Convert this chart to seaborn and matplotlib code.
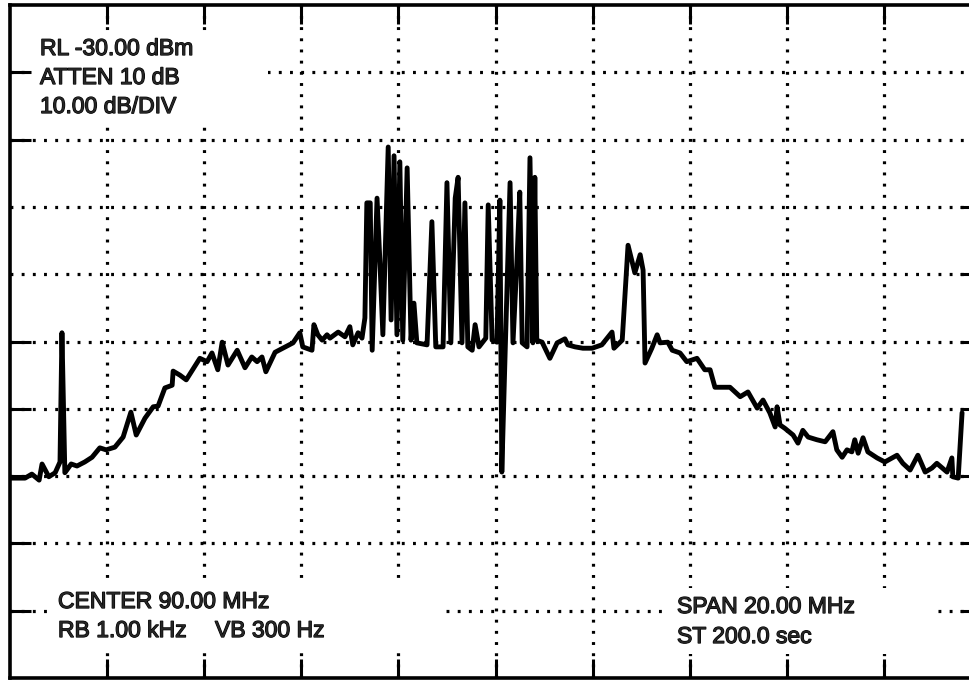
import numpy as np
import pandas as pd
import matplotlib
matplotlib.use("Agg")
import matplotlib.pyplot as plt
import matplotlib.patheffects as pe
from matplotlib.patches import Rectangle
import seaborn as sns

# Swept spectrum trace: frequency (MHz) and displayed level (dBm)
freq_mhz = [
    80.00, 80.31, 80.45, 80.60, 80.66, 80.80, 80.93, 81.03, 81.07, 81.13,
    81.26, 81.38, 81.54, 81.69, 81.85, 81.98, 82.16, 82.33, 82.49, 82.60,
    82.78, 82.95, 83.05, 83.19, 83.34, 83.36, 83.50, 83.63, 83.91, 84.06,
    84.16, 84.28, 84.37, 84.49, 84.68, 84.84, 84.98, 85.09, 85.19, 85.27,
    85.46, 85.62, 85.83, 85.97, 86.03, 86.22, 86.26, 86.34, 86.43, 86.53,
    86.59, 86.76, 86.90, 87.00, 87.06, 87.17, 87.25, 87.31, 87.35, 87.42,
    87.46, 87.56, 87.62, 87.68, 87.79, 87.85, 87.91, 87.97, 88.03, 88.09,
    88.18, 88.26, 88.32, 88.38, 88.59, 88.69, 88.77, 88.92, 89.00, 89.08,
    89.17, 89.23, 89.31, 89.37, 89.43, 89.52, 89.58, 89.66, 89.80, 89.85,
    89.93, 90.03, 90.09, 90.13, 90.20, 90.30, 90.36, 90.44, 90.50, 90.55,
    90.65, 90.71, 90.77, 90.81, 90.85, 90.96, 91.12, 91.27, 91.43, 91.49,
    91.64, 91.80, 91.99, 92.19, 92.40, 92.44, 92.61, 92.73, 92.87, 92.98,
    93.04, 93.08, 93.22, 93.33, 93.39, 93.55, 93.64, 93.80, 93.94, 94.15,
    94.31, 94.42, 94.52, 94.83, 95.04, 95.20, 95.39, 95.51, 95.65, 95.76,
    95.80, 95.86, 95.96, 96.13, 96.23, 96.33, 96.44, 96.62, 96.79, 96.95,
    97.03, 97.14, 97.24, 97.34, 97.40, 97.47, 97.57, 97.67, 97.86, 98.02,
    98.17, 98.27, 98.39, 98.54, 98.70, 98.85, 98.99, 99.09, 99.30, 99.40,
    99.42, 99.53, 99.61,
]
level_dbm = [
    -100.3, -100.3, -99.7, -100.6, -98.2, -100.1, -99.5, -97.9, -78.7, -99.5,
    -98.2, -98.5, -97.9, -97.2, -95.8, -96.1, -95.7, -94.2, -90.5, -93.9,
    -91.4, -89.7, -89.6, -86.9, -86.5, -84.4, -85.0, -85.7, -82.5, -83.0,
    -81.7, -84.2, -80.1, -83.5, -81.3, -83.9, -82.3, -83.0, -82.3, -84.5,
    -81.6, -81.0, -80.2, -78.7, -80.8, -81.3, -77.5, -79.0, -79.8, -79.0,
    -79.5, -78.6, -79.3, -77.8, -80.5, -78.7, -79.5, -76.5, -59.4, -59.4,
    -81.3, -58.7, -68.3, -79.0, -51.1, -76.8, -52.4, -79.0, -53.3, -79.8,
    -54.2, -79.8, -74.3, -80.2, -80.5, -62.2, -80.8, -80.8, -56.4, -80.2,
    -58.7, -55.6, -80.2, -59.4, -80.8, -81.3, -77.5, -80.8, -79.5, -59.7,
    -79.8, -80.1, -59.0, -99.4, -81.3, -56.4, -80.2, -68.3, -57.8, -80.2,
    -80.8, -52.7, -80.2, -55.6, -79.8, -80.1, -82.5, -80.2, -79.6, -80.5,
    -80.8, -81.0, -81.0, -80.5, -78.6, -81.0, -79.8, -65.7, -69.8, -67.1,
    -69.4, -83.2, -81.0, -79.0, -80.2, -80.1, -81.3, -81.7, -83.0, -82.5,
    -84.2, -84.2, -86.8, -86.8, -88.2, -87.5, -89.9, -88.7, -90.6, -92.7,
    -89.7, -92.4, -92.9, -93.9, -95.1, -93.2, -94.2, -94.6, -94.9, -93.4,
    -96.1, -97.2, -96.1, -96.4, -94.6, -96.6, -94.3, -96.4, -97.3, -97.9,
    -97.3, -96.9, -98.1, -99.1, -96.9, -99.4, -98.8, -98.1, -99.4, -97.3,
    -100.1, -100.3, -90.6,
]

# Instrument settings shown on screen
ref_level_dbm = -30.0
db_per_div = 10.0
n_ydiv = 10
center_mhz = 90.0
span_mhz = 20.0
n_xdiv = 10

settings_top = ["RL -30.00 dBm", "ATTEN 10 dB", "10.00 dB/DIV"]
center_text = "CENTER 90.00 MHz"
rbw_text = "RB 1.00 kHz"
vbw_text = "VB 300 Hz"
span_text = "SPAN 20.00 MHz"
sweep_text = "ST 200.0 sec"

sns.set_style("white")
plt.rcParams["font.family"] = ["Liberation Sans", "DejaVu Sans"]

W, H = 969, 680
fig = plt.figure(figsize=(W / 100, H / 100), dpi=100)
fig.patch.set_facecolor("white")
# graticule runs slightly past the right edge of the saved frame
ax = fig.add_axes([10 / W, 2 / H, 971 / W, 673 / H])
ax.set_facecolor("white")

f_lo = center_mhz - span_mhz / 2
f_hi = center_mhz + span_mhz / 2
y_hi = ref_level_dbm
y_lo = ref_level_dbm - n_ydiv * db_per_div
ax.set_xlim(f_lo, f_hi)
ax.set_ylim(y_lo, y_hi)

x_step = span_mhz / n_xdiv
xgrid = f_lo + x_step * np.arange(1, n_xdiv)
ygrid = y_lo + db_per_div * np.arange(1, n_ydiv)

dot = (0, (0.9, 2.6))
for xv in xgrid:
    ax.axvline(xv, color="black", lw=2.3, ls=dot, zorder=0.6)
for yv in ygrid:
    ax.axhline(yv, color="black", lw=2.3, ls=dot, zorder=0.6)

# annotation panels blank out the graticule behind the text
px_f = x_step / 97.1
px_db = db_per_div / 67.3

def fx(px):
    return f_lo + (px - 10) * px_f

def fy(py):
    return y_hi - (py - 5) * px_db

for x0, x1, y0, y1 in [(31, 268, 31, 123), (52, 440, 580, 645), (668, 933, 588, 654)]:
    ax.add_patch(Rectangle((fx(x0), fy(y1)), fx(x1) - fx(x0), fy(y0) - fy(y1),
                           facecolor="white", edgecolor="none", zorder=1))

df = pd.DataFrame({"freq": freq_mhz, "level": level_dbm})
sns.lineplot(data=df, x="freq", y="level", ax=ax, color="black", lw=3.5,
             sort=False, estimator=None, zorder=3)

fs = 16.5
thick = [pe.withStroke(linewidth=0.9, foreground="black")]
def label(px, py, s):
    ax.text(fx(px), fy(py), s, fontsize=fs, va="baseline", ha="left",
            zorder=4, path_effects=thick)

for i, s in enumerate(settings_top):
    label(40, 55 + 29 * i, s)
label(58, 608, center_text)
label(58, 637, rbw_text)
label(215, 637, vbw_text)
label(677, 613, span_text)
label(677, 643, sweep_text)

ax.set_xlabel("")
ax.set_ylabel("")
ax.set_axisbelow(False)
ax.set_xticks(xgrid)
ax.tick_params(axis="x", direction="in", length=14, width=2.2, color="black",
               top=True, bottom=True, labelbottom=False, labeltop=False)
left_ticks = [-40, -50, -80, -90, -100, -110, -120]
right_ticks = [-60, -70, -80, -90, -100, -110, -120]
ax.set_yticks(left_ticks)
ax.tick_params(axis="y", direction="in", length=15, width=2.2, color="black",
               left=True, right=False, labelleft=False)
sec = ax.secondary_yaxis("right")
sec.set_yticks(right_ticks)
sec.tick_params(direction="in", length=15, width=2.2, color="black", labelright=False)
for sp in ax.spines.values():
    sp.set_visible(True)
    sp.set_color("black")
    sp.set_linewidth(2.6)

fig.savefig("out.png", dpi=100, facecolor="white")
